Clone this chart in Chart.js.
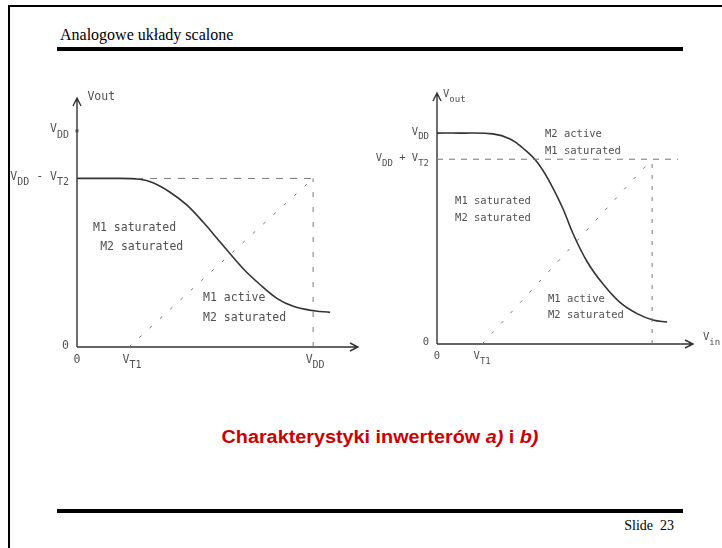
<!DOCTYPE html>
<html>
<head>
<meta charset="utf-8">
<script src="https://cdn.jsdelivr.net/npm/chart.js@4"></script>
<style>
  body { margin: 0; width: 722px; height: 548px; background: #fff; overflow: hidden; position: relative; }
  .abs { position: absolute; }
  .bar { position: absolute; background: #000; }
  #head { left: 60px; top: 25px; font: 16px "Liberation Serif", "Times New Roman", serif; line-height: 20px; }
  #title { left: 0; width: 760px; top: 427px; text-align: center; color: #cc0000; font: bold 18px "Liberation Sans", Arial, sans-serif; transform: scaleX(1.1); transform-origin: 380px 0; }
  #slide { left: 560px; width: 114px; top: 518px; text-align: right; font: 14px "Liberation Serif", "Times New Roman", serif; white-space: pre; }
  #boxA { left: 0; top: 80px; width: 360px; height: 300px; }
  #boxB { left: 360px; top: 80px; width: 362px; height: 300px; }
</style>
</head>
<body>
<div class="bar" style="left:8px;top:5px;width:2px;height:543px"></div>
<div class="bar" style="left:8px;top:5px;width:714px;height:2px"></div>
<div id="head" class="abs">Analogowe układy scalone</div>
<div class="bar" style="left:57px;top:47px;width:626px;height:4px"></div>

<div id="boxA" class="abs"><canvas id="chartA"></canvas></div>
<div id="boxB" class="abs"><canvas id="chartB"></canvas></div>

<div id="title" class="abs">Charakterystyki inwerterów <i>a)</i> i <i>b)</i></div>
<div class="bar" style="left:57px;top:509px;width:626px;height:4px"></div>
<div id="slide" class="abs">Slide  23</div>

<script>
// ---- chart a) : Vout(Vin), VDD = 5 ----
var vddA = 5, vt1A = 1.1, vt2A = 1.1;
var curveAx = [0, 0.9, 1.33, 1.61, 1.97, 2.33, 2.67, 3.03, 3.52, 3.88, 4.24, 4.58, 4.94, 5.36];
var curveAy = [3.9, 3.9, 3.88, 3.8, 3.58, 3.28, 2.89, 2.43, 1.81, 1.44, 1.12, 0.94, 0.85, 0.8];
var ticksAy = ["0", "V_{DD}", "V_{DD} - V_{T2}"];
var ticksAx = ["0", "V_{T1}", "V_{DD}"];

// ---- chart b) ----
var vddB = 5, vt1B = 1.05, vlimB = 4.38, vinB = 5.0;
var curveBx = [0, 0.53, 1.3, 1.7, 2.0, 2.33, 2.63, 2.93, 3.16, 3.49, 3.86, 4.26, 4.65, 5.02, 5.35];
var curveBy = [5, 5, 4.98, 4.86, 4.64, 4.31, 3.82, 3.2, 2.62, 1.95, 1.42, 0.98, 0.72, 0.57, 0.52];
var ticksBy = ["0", "V_{DD}", "V_{DD} + V_{T2}"];
var ticksBx = ["0", "V_{T1}"];

function pts(xs, ys) { return xs.map(function (x, i) { return { x: x, y: ys[i] }; }); }

var ink = "#333";
var gray = "#777";
var mono = '"DejaVu Sans Mono", "Liberation Mono", monospace';

// text with _{sub} parts
function rich(ctx, txt, x, y, align, size) {
  var parts = [];
  var re = /_\{([^}]*)\}/g, last = 0, m;
  while ((m = re.exec(txt)) !== null) {
    if (m.index > last) parts.push([txt.slice(last, m.index), false]);
    parts.push([m[1], true]);
    last = re.lastIndex;
  }
  if (last < txt.length) parts.push([txt.slice(last), false]);
  var sub = Math.round(size * 0.85);
  var w = 0;
  parts.forEach(function (p) {
    ctx.font = (p[1] ? sub : size) + "px " + mono;
    w += ctx.measureText(p[0]).width;
  });
  var cx = align === "right" ? x - w : align === "center" ? x - w / 2 : x;
  ctx.textAlign = "left";
  ctx.textBaseline = "middle";
  parts.forEach(function (p) {
    ctx.font = (p[1] ? sub : size) + "px " + mono;
    ctx.fillText(p[0], cx, p[1] ? y + size * 0.38 : y - size * 0.12);
    cx += ctx.measureText(p[0]).width;
  });
}

var sketch = {
  id: "sketch",
  beforeDatasetsDraw: function (chart) {
    var ctx = chart.ctx, xs = chart.scales.x, ys = chart.scales.y;
    var x0 = xs.getPixelForValue(0), y0 = ys.getPixelForValue(0);
    var xe = xs.getPixelForValue(xs.max), ye = ys.getPixelForValue(ys.max);
    ctx.save();
    ctx.strokeStyle = ink;
    ctx.lineWidth = 1.4;
    ctx.beginPath();
    ctx.moveTo(x0, y0); ctx.lineTo(xe, y0);
    ctx.moveTo(xe - 8, y0 - 4); ctx.lineTo(xe, y0); ctx.lineTo(xe - 8, y0 + 4);
    ctx.moveTo(x0, y0); ctx.lineTo(x0, ye);
    ctx.moveTo(x0 - 4, ye + 8); ctx.lineTo(x0, ye); ctx.lineTo(x0 + 4, ye + 8);
    ctx.stroke();
    ctx.restore();
  },
  afterDraw: function (chart) {
    var o = chart.options.plugins.sketch;
    var ctx = chart.ctx, xs = chart.scales.x, ys = chart.scales.y;
    var x0 = xs.getPixelForValue(0), y0 = ys.getPixelForValue(0);
    ctx.save();
    ctx.fillStyle = "#505050";
    (o.marks || []).forEach(function (v) {
      var y = ys.getPixelForValue(v);
      ctx.fillRect(x0 - 1.5, y - 1.5, 3, 3);
    });
    o.yTicks.forEach(function (t) {
      rich(ctx, t[0], x0 - 8, ys.getPixelForValue(t[1]), "right", o.size);
    });
    o.xTicks.forEach(function (t) {
      rich(ctx, t[0], xs.getPixelForValue(t[1]) + (t[2] || 0), y0 + 14, "center", o.size);
    });
    o.notes.forEach(function (n) {
      rich(ctx, n[0], xs.getPixelForValue(n[1]), ys.getPixelForValue(n[2]), n[3] || "left", n[4] || o.size);
    });
    ctx.restore();
  }
};

function dashed(data, dash) {
  return { data: data, showLine: true, borderColor: gray, borderWidth: 1, borderDash: dash, pointRadius: 0, fill: false };
}

function makeChart(id, cfg) {
  return new Chart(id, {
    type: "scatter",
    data: { datasets: cfg.datasets },
    options: {
      responsive: true,
      maintainAspectRatio: false,
      animation: false,
      events: [],
      layout: { padding: cfg.padding },
      scales: {
        x: { type: "linear", min: 0, max: 5.95, display: false },
        y: { type: "linear", min: 0, max: cfg.ymax, display: false }
      },
      plugins: { legend: { display: false }, tooltip: { enabled: false }, sketch: cfg.sketch }
    },
    plugins: [sketch]
  });
}

makeChart("chartA", {
  padding: { left: 77, right: 2, top: 18, bottom: 33 },
  ymax: 5.76,
  datasets: [
    dashed(pts([1.25, vddA], [vddA - vt2A, vddA - vt2A]), [7, 7]),
    dashed(pts([vddA, vddA], [0, vddA - vt2A]), [5, 10]),
    dashed(pts([vt1A, vddA], [0, vddA - vt2A]), [3, 11]),
    { data: pts(curveAx, curveAy), showLine: true, borderColor: ink, borderWidth: 1.6,
      pointRadius: 0, fill: false, cubicInterpolationMode: "monotone" }
  ],
  sketch: {
    size: 11.5,
    marks: [vddA],
    yTicks: [[ticksAy[0], 0], [ticksAy[1], vddA], [ticksAy[2], vddA - vt2A]],
    xTicks: [[ticksAx[0], 0], [ticksAx[1], vt1A, 3], [ticksAx[2], vddA, 2]],
    notes: [
      ["Vout", 0.22, 5.76],
      ["M1 saturated", 0.34, 2.71],
      ["M2 saturated", 0.49, 2.27],
      ["M1 active", 2.67, 1.09],
      ["M2 saturated", 2.67, 0.65]
    ]
  }
});

makeChart("chartB", {
  padding: { left: 77, right: 29, top: 13, bottom: 36 },
  ymax: 5.95,
  datasets: [
    dashed(pts([0, 5.6], [vlimB, vlimB]), [6, 6]),
    dashed(pts([vinB, vinB], [0, vlimB]), [4, 7]),
    dashed(pts([vt1B, vinB - 0.05], [0, vlimB - 0.05]), [3, 11]),
    { data: pts(curveBx, curveBy), showLine: true, borderColor: ink, borderWidth: 1.6,
      pointRadius: 0, fill: false, tension: 0.4 }
  ],
  sketch: {
    size: 10.5,
    yTicks: [[ticksBy[0], 0], [ticksBy[1], vddB], [ticksBy[2], vlimB]],
    xTicks: [[ticksBx[0], 0], [ticksBx[1], vt1B, 0]],
    notes: [
      ["V_{out}", 0.14, 5.88],
      ["V_{in}", 6.18, 0.12],
      ["M2 active", 2.51, 4.95],
      ["M1 saturated", 2.51, 4.55],
      ["M1 saturated", 0.42, 3.36],
      ["M2 saturated", 0.42, 2.96],
      ["M1 active", 2.58, 1.04],
      ["M2 saturated", 2.58, 0.64]
    ]
  }
});
</script>
</body>
</html>
